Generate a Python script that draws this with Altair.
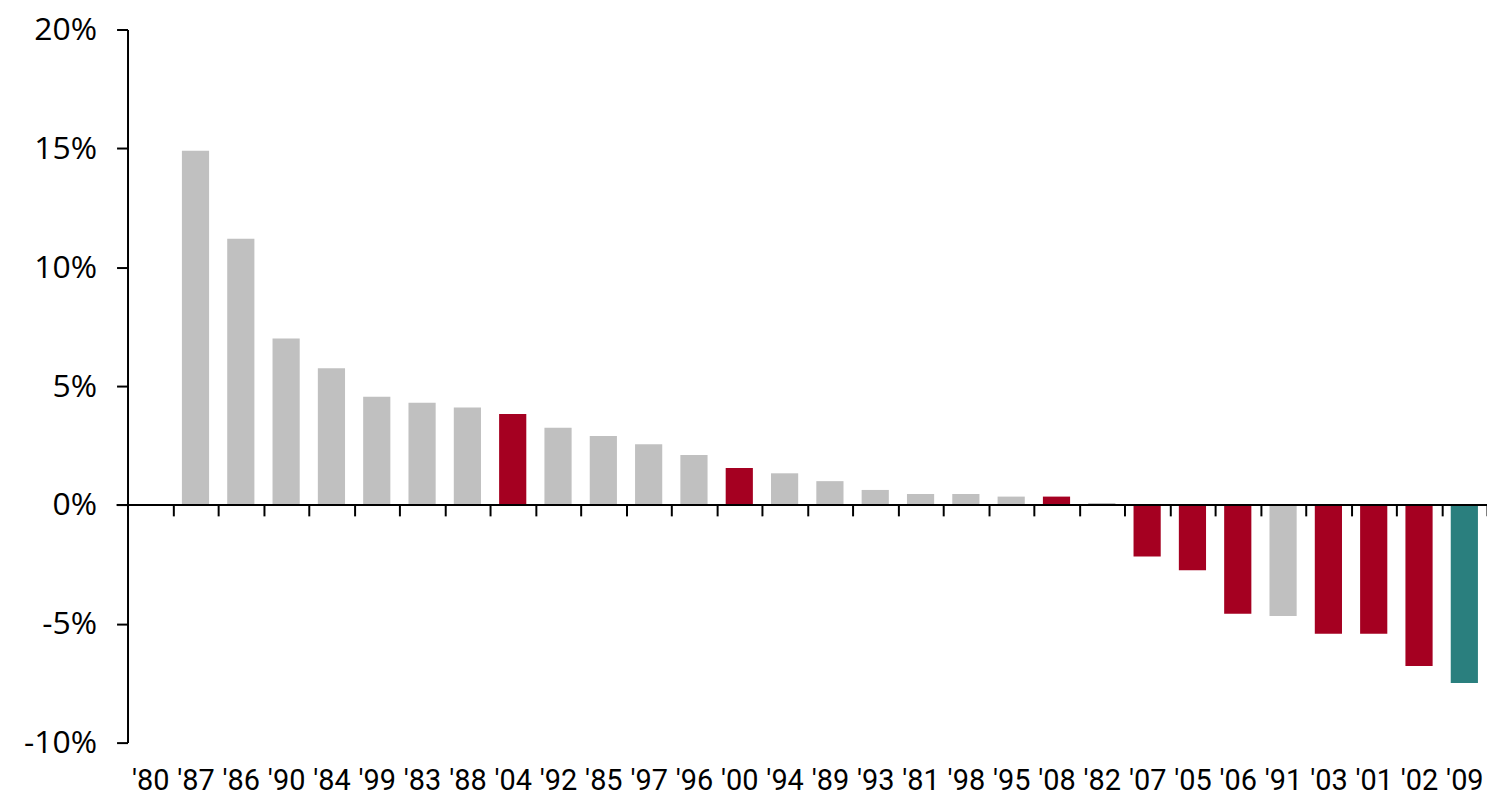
import altair as alt
import pandas as pd

years = ["'80", "'87", "'86", "'90", "'84", "'99", "'83", "'88", "'04", "'92",
         "'85", "'97", "'96", "'00", "'94", "'89", "'93", "'81", "'98", "'95",
         "'08", "'82", "'07", "'05", "'06", "'91", "'03", "'01", "'02", "'09"]
values = [0.0, 14.9, 11.2, 7.0, 5.75, 4.55, 4.3, 4.1, 3.83, 3.25,
          2.9, 2.55, 2.1, 1.55, 1.33, 1.0, 0.63, 0.46, 0.46, 0.35,
          0.35, 0.08, -2.17, -2.75, -4.58, -4.67, -5.42, -5.42, -6.78, -7.49]
groups = ["other", "other", "other", "other", "other", "other", "other", "other", "red", "other",
          "other", "other", "other", "red", "other", "other", "other", "other", "other", "other",
          "red", "other", "red", "red", "red", "other", "red", "red", "red", "current"]
y_ticks = [-10, -5, 0, 5, 10, 15, 20]

df = pd.DataFrame({"year": years, "value": values, "group": groups})

W, H = 1365, 716

bars = alt.Chart(df).mark_bar(width=alt.RelativeBandSize(0.6)).encode(
    x=alt.X(
        "year:N",
        sort=years,
        scale=alt.Scale(paddingInner=0, paddingOuter=0),
        axis=alt.Axis(
            title=None,
            orient="bottom",
            offset=-H / 3,
            domain=False,
            ticks=True,
            tickBand="extent",
            tickSize=11,
            tickWidth=2,
            tickColor="black",
            labelAngle=0,
            labelPadding=252,
            labelOverlap=False,
            labelFont="Roboto",
            labelFontSize=29,
            labelColor="black",
        ),
    ),
    y=alt.Y(
        "value:Q",
        scale=alt.Scale(domain=[-10, 20], nice=False, zero=False),
        axis=alt.Axis(
            title=None,
            values=y_ticks,
            labelExpr="datum.value + '%'",
            grid=False,
            domain=True,
            domainColor="black",
            domainWidth=2,
            ticks=True,
            tickSize=11,
            tickWidth=2,
            tickColor="black",
            labelFont="Open Sans",
            labelFontSize=32,
            labelColor="black",
            labelPadding=20,
        ),
    ),
    color=alt.Color(
        "group:N",
        scale=alt.Scale(domain=["other", "red", "current"],
                        range=["#C0C0C0", "#A50021", "#2A7F7E"]),
        legend=None,
    ),
)

zero = alt.Chart(pd.DataFrame({"z": [0]})).mark_rule(color="black", strokeWidth=2).encode(
    x=alt.value(-11),
    x2=alt.value(W),
    y=alt.Y("z:Q"),
)

chart = alt.layer(bars, zero).properties(
    width=W,
    height=H,
    padding={"left": 120, "top": 20, "right": 0, "bottom": 53},
    autosize=alt.AutoSizeParams(type="none"),
).configure_view(stroke=None)

chart.save("out.html", embed_options={"renderer": "svg", "actions": False})
